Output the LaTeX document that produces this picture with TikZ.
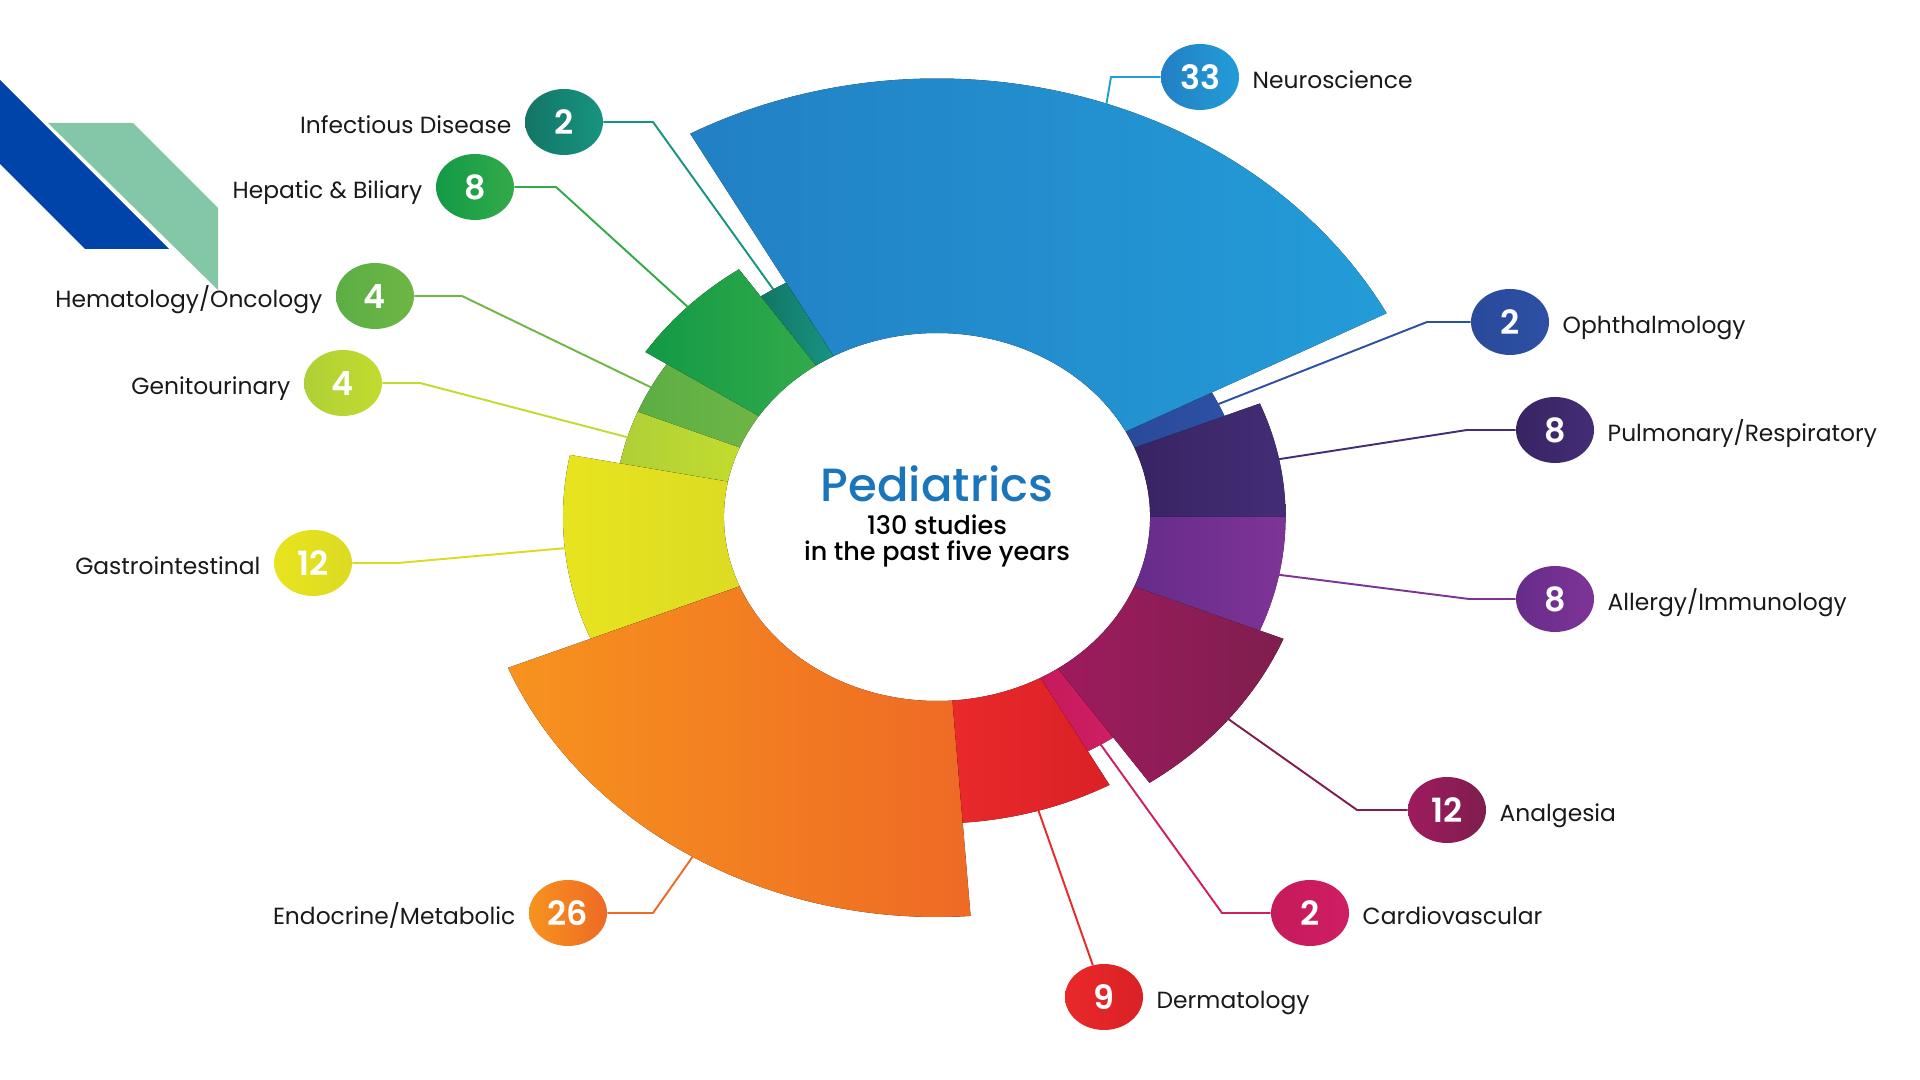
\documentclass[tikz,border=0pt]{standalone}
\usepackage{fontspec}
\setmainfont{Poppins}
\newfontfamily\medfont{Poppins Medium}
\newfontfamily\semifont{Poppins SemiBold}
\usetikzlibrary{positioning,shapes.geometric}

% left and right shade of each area
\definecolor{pulmL}{HTML}{382463}\definecolor{pulmR}{HTML}{432D76}
\definecolor{ophtL}{HTML}{2A4A9A}\definecolor{ophtR}{HTML}{2D50A5}
\definecolor{neuroL}{HTML}{2280C4}\definecolor{neuroR}{HTML}{239CD8}
\definecolor{infectL}{HTML}{137566}\definecolor{infectR}{HTML}{179480}
\definecolor{hepatL}{HTML}{129A46}\definecolor{hepatR}{HTML}{33AA4A}
\definecolor{hematL}{HTML}{5BAE44}\definecolor{hematR}{HTML}{6EB645}
\definecolor{genitoL}{HTML}{AED037}\definecolor{genitoR}{HTML}{C3DB2E}
\definecolor{gastroL}{HTML}{E8E41F}\definecolor{gastroR}{HTML}{DCDB22}
\definecolor{endoL}{HTML}{F7931E}\definecolor{endoR}{HTML}{EE6A25}
\definecolor{dermL}{HTML}{E9292A}\definecolor{dermR}{HTML}{DA2126}
\definecolor{cardioL}{HTML}{C51A5B}\definecolor{cardioR}{HTML}{D01E63}
\definecolor{analgL}{HTML}{9E1B5E}\definecolor{analgR}{HTML}{7F1E4E}
\definecolor{allergL}{HTML}{662C8A}\definecolor{allergR}{HTML}{7E3497}
\definecolor{titleblue}{HTML}{1B75BB}
\definecolor{decoblue}{HTML}{0044AA}
\definecolor{decogreen}{HTML}{84C7A6}

\tikzset{
  badge/.style={ellipse, minimum width=1.56cm, minimum height=1.32cm, inner sep=0pt,
    left color=#1L, right color=#1R, text=white,
    font=\semifont\fontsize{19}{19}\selectfont},
  lbl/.style={inner sep=0pt, text height=15.7pt, text depth=3pt, text=black!90,
    font=\fontsize{13.3}{13.3}\selectfont},
  link/.style={line width=1.1pt, draw=#1},
}

\begin{document}
\begin{tikzpicture}
\useasboundingbox (0,0) rectangle (38.4,21.6);

% draw the corner ribbons
\fill[decoblue] (0,20) -- (3.38,16.62) -- (1.70,16.62) -- (0,18.32) -- cycle;
\fill[decogreen] (0.96,19.14) -- (2.66,19.14) -- (4.36,17.44) -- (4.36,15.80) -- cycle;

% draw the ring segments, one per therapeutic area (130 studies in all)
\begin{scope}[shift={(18.74,11.26)}, xscale=1.158]
\foreach \a/\b/\d in {0/8/pulm, 8/10/opht, 10/43/neuro, 43/45/infect, 45/53/hepat,
  53/57/hemat, 57/61/genito, 61/73/gastro, 73/99/endo, 99/108/derm,
  108/110/cardio, 110/122/analg, 122/130/allerg}{
  \pgfmathsetmacro\sa{\a*2.769231}
  \pgfmathsetmacro\ea{\b*2.769231}
  \pgfmathsetmacro\ro{5.14+0.11*(\b-\a)}
  \fill[left color=\d L, right color=\d R] (\sa:3.68) arc[start angle=\sa, end angle=\ea, radius=3.68]
    -- (\ea:\ro) arc[start angle=\ea, end angle=\sa, radius=\ro] -- cycle;
  \coordinate (\d-out) at ({(\sa+\ea)/2}:\ro);
}
% neuroscience line leaves a bit right of the middle
\coordinate (neuro-out) at (70.5:8.77);
\end{scope}

% centre text
\node[inner sep=0pt] (title) at (18.74,11.92) {\medfont\fontsize{26.5}{26.5}\selectfont\color{titleblue}Pediatrics};
\node[inner sep=0pt, align=center, font=\medfont\fontsize{14.5}{15}\selectfont] (sub) at (18.74,10.78)
  {130 studies\\ in the past five years};

% draw badges with their labels
\node[badge=neuro] (neuro) at (24,20.06) {33};
\node[lbl, right=0.26cm of neuro] (neuro-lbl) {Neuroscience};
\node[badge=opht] (opht) at (30.2,15.16) {2};
\node[lbl, right=0.26cm of opht] (opht-lbl) {Ophthalmology};
\node[badge=pulm] (pulm) at (31.1,13) {8};
\node[lbl, right=0.26cm of pulm] (pulm-lbl) {Pulmonary/Respiratory};
\node[badge=allerg] (allerg) at (31.1,9.62) {8};
\node[lbl, right=0.26cm of allerg] (allerg-lbl) {Allergy/Immunology};
\node[badge=analg] (analg) at (28.94,5.4) {12};
\node[lbl, right=0.26cm of analg] (analg-lbl) {Analgesia};
\node[badge=cardio] (cardio) at (26.2,3.34) {2};
\node[lbl, right=0.26cm of cardio] (cardio-lbl) {Cardiovascular};
\node[badge=derm] (derm) at (22.08,1.66) {9};
\node[lbl, right=0.26cm of derm] (derm-lbl) {Dermatology};
\node[badge=endo] (endo) at (11.36,3.34) {26};
\node[lbl, left=0.26cm of endo] (endo-lbl) {Endocrine/Metabolic};
\node[badge=gastro] (gastro) at (6.26,10.34) {12};
\node[lbl, left=0.26cm of gastro] (gastro-lbl) {Gastrointestinal};
\node[badge=genito] (genito) at (6.86,13.94) {4};
\node[lbl, left=0.26cm of genito] (genito-lbl) {Genitourinary};
\node[badge=hemat] (hemat) at (7.5,15.68) {4};
\node[lbl, left=0.26cm of hemat] (hemat-lbl) {Hematology/Oncology};
\node[badge=hepat] (hepat) at (9.5,17.86) {8};
\node[lbl, left=0.26cm of hepat] (hepat-lbl) {Hepatic \& Biliary};
\node[badge=infect] (infect) at (11.28,19.16) {2};
\node[lbl, left=0.26cm of infect] (infect-lbl) {Infectious Disease};

% bend points of the leader lines
\coordinate (neuro-bend) at (22.22,20.06);
\coordinate (opht-bend) at (28.54,15.16);
\coordinate (pulm-bend) at (29.34,13);
\coordinate (allerg-bend) at (29.38,9.62);
\coordinate (analg-bend) at (27.14,5.4);
\coordinate (cardio-bend) at (24.44,3.34);
\coordinate (endo-bend) at (13.06,3.34);
\coordinate (gastro-bend) at (7.96,10.34);
\coordinate (genito-bend) at (8.4,13.94);
\coordinate (hemat-bend) at (9.24,15.68);
\coordinate (hepat-bend) at (11.12,17.86);
\coordinate (infect-bend) at (13.06,19.16);

% draw leader lines
\foreach \d in {neuro, opht, pulm, allerg, analg, cardio, endo, gastro, genito, hemat, hepat, infect}
\draw[link=\d R] (\d-out) -- (\d-bend) -- (\d);
\draw[link=dermL] (derm-out) -- (derm);
\end{tikzpicture}
\end{document}
